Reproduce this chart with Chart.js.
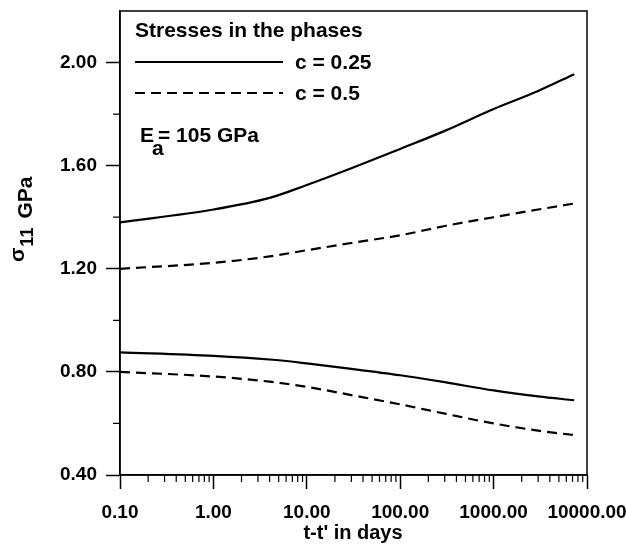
<!DOCTYPE html>
<html>
<head>
<meta charset="utf-8">
<script src="https://cdn.jsdelivr.net/npm/chart.js@4.4.0/dist/chart.umd.min.js"></script>
<style>
  body { margin: 0; background: #fff; }
  #wrap { width: 626px; height: 544px; }
</style>
</head>
<body>
<div id="wrap"><canvas id="canvas" width="626" height="544"></canvas></div>
<script>
// (t - t' in days)
const times = [0.1, 1, 4, 10, 30, 100, 300, 1000, 3000, 7300];
const upperSolid = [1.38, 1.43, 1.475, 1.525, 1.59, 1.665, 1.735, 1.82, 1.89, 1.955];
const upperDashed = [1.20, 1.223, 1.248, 1.272, 1.30, 1.33, 1.366, 1.40, 1.43, 1.453];
const lowerSolid = [0.876, 0.862, 0.848, 0.833, 0.812, 0.787, 0.76, 0.728, 0.705, 0.69];
const lowerDashed = [0.80, 0.782, 0.762, 0.742, 0.71, 0.674, 0.638, 0.60, 0.572, 0.555];

const xTicks = [0.1, 1, 10, 100, 1000, 10000];
const yTicks = [0.4, 0.8, 1.2, 1.6, 2.0];
const yMinorTicks = [0.6, 1.0, 1.4, 1.8];

const FONT = "'Liberation Sans', Arial, sans-serif";

const toPoints = (vals) => times.map((t, i) => ({ x: t, y: vals[i] }));

const lineSet = (vals, dashed) => ({
    data: toPoints(vals),
    borderColor: '#000',
    borderWidth: 2.2,
    borderDash: dashed ? [10, 6] : [],
    pointRadius: 0,
    fill: false,
    cubicInterpolationMode: 'monotone'
});

// frame, minor ticks, legend text and axis titles
const overlay = {
    id: 'overlay',
    afterDraw(chart) {
        const ctx = chart.ctx;
        const area = chart.chartArea;
        const xs = chart.scales.x;
        const ys = chart.scales.y;
        ctx.save();
        ctx.strokeStyle = '#000';
        ctx.fillStyle = '#000';
        ctx.lineWidth = 1.5;
        ctx.strokeRect(area.left, area.top, area.right - area.left, area.bottom - area.top);

        // minor ticks
        ctx.lineWidth = 1.2;
        ctx.beginPath();
        for (let d = 0.1; d < 10000; d *= 10) {
            for (let k = 2; k <= 9; k++) {
                const px = xs.getPixelForValue(d * k);
                ctx.moveTo(px, area.bottom);
                ctx.lineTo(px, area.bottom + 7);
            }
        }
        yMinorTicks.forEach((v) => {
            const py = ys.getPixelForValue(v);
            ctx.moveTo(area.left, py);
            ctx.lineTo(area.left - 7, py);
        });
        ctx.stroke();

        // legend
        ctx.font = 'bold 21px ' + FONT;
        ctx.textBaseline = 'alphabetic';
        ctx.textAlign = 'left';
        ctx.fillText('Stresses in the phases', 135, 37);
        ctx.lineWidth = 2;
        ctx.beginPath();
        ctx.moveTo(135, 62);
        ctx.lineTo(283, 62);
        ctx.stroke();
        ctx.setLineDash([10, 6]);
        ctx.beginPath();
        ctx.moveTo(135, 93);
        ctx.lineTo(283, 93);
        ctx.stroke();
        ctx.setLineDash([]);
        ctx.fillText('c = 0.25', 295, 69);
        ctx.fillText('c = 0.5', 295, 100);

        ctx.fillText('E', 140, 142);
        ctx.fillText('a', 152, 155);
        ctx.fillText('= 105 GPa', 158, 142);

        // x title
        ctx.font = 'bold 20px ' + FONT;
        ctx.textAlign = 'center';
        ctx.fillText("t-t' in days", 353, 539);

        // y title, rotated
        ctx.translate(32, 262);
        ctx.rotate(-Math.PI / 2);
        ctx.textAlign = 'left';
        ctx.font = 'bold 21px ' + FONT;
        ctx.fillText('\u03c3', 0, -8);
        const sW = ctx.measureText('\u03c3').width;
        ctx.font = 'bold 18px ' + FONT;
        ctx.fillText('11', sW + 1, 1);
        const nW = ctx.measureText('11').width;
        ctx.font = 'bold 21px ' + FONT;
        ctx.fillText('GPa', sW + nW + 10, 0);
        ctx.restore();
    }
};

const ctx = document.getElementById('canvas').getContext('2d');
const myChart = new Chart(ctx, {
    type: 'line',
    data: {
        datasets: [
            lineSet(upperSolid, false),
            lineSet(upperDashed, true),
            lineSet(lowerSolid, false),
            lineSet(lowerDashed, true)
        ]
    },
    options: {
        responsive: false,
        animation: false,
        devicePixelRatio: 1,
        layout: { padding: { top: 11, right: 39, left: 0, bottom: 0 } },
        plugins: { legend: { display: false }, tooltip: { enabled: false } },
        scales: {
            x: {
                type: 'logarithmic',
                min: 0.1,
                max: 10000,
                afterBuildTicks: (scale) => { scale.ticks = xTicks.map((v) => ({ value: v })); },
                afterFit: (scale) => {
                    scale.height = 69;
                    scale.paddingLeft = 0;
                    scale.paddingRight = 0;
                },
                grid: { drawOnChartArea: false, drawTicks: true, tickLength: 14, tickWidth: 1.5, tickColor: '#000' },
                border: { display: true, color: '#000', width: 1.5 },
                ticks: {
                    color: '#000',
                    padding: 12,
                    maxRotation: 0,
                    autoSkip: false,
                    font: { family: FONT, size: 19, weight: 'bold' },
                    callback: (v) => Number(v).toFixed(2)
                }
            },
            y: {
                type: 'linear',
                min: 0.4,
                max: 2.2,
                afterBuildTicks: (scale) => { scale.ticks = yTicks.map((v) => ({ value: v })); },
                afterFit: (scale) => {
                    scale.width = 120;
                    scale.paddingTop = 0;
                    scale.paddingBottom = 0;
                },
                grid: { drawOnChartArea: false, drawTicks: true, tickLength: 14, tickWidth: 1.5, tickColor: '#000' },
                border: { display: true, color: '#000', width: 1.5 },
                ticks: {
                    color: '#000',
                    padding: 9,
                    font: { family: FONT, size: 19, weight: 'bold' },
                    callback: (v) => Number(v).toFixed(2)
                }
            }
        }
    },
    plugins: [overlay]
});
</script>
</body>
</html>
